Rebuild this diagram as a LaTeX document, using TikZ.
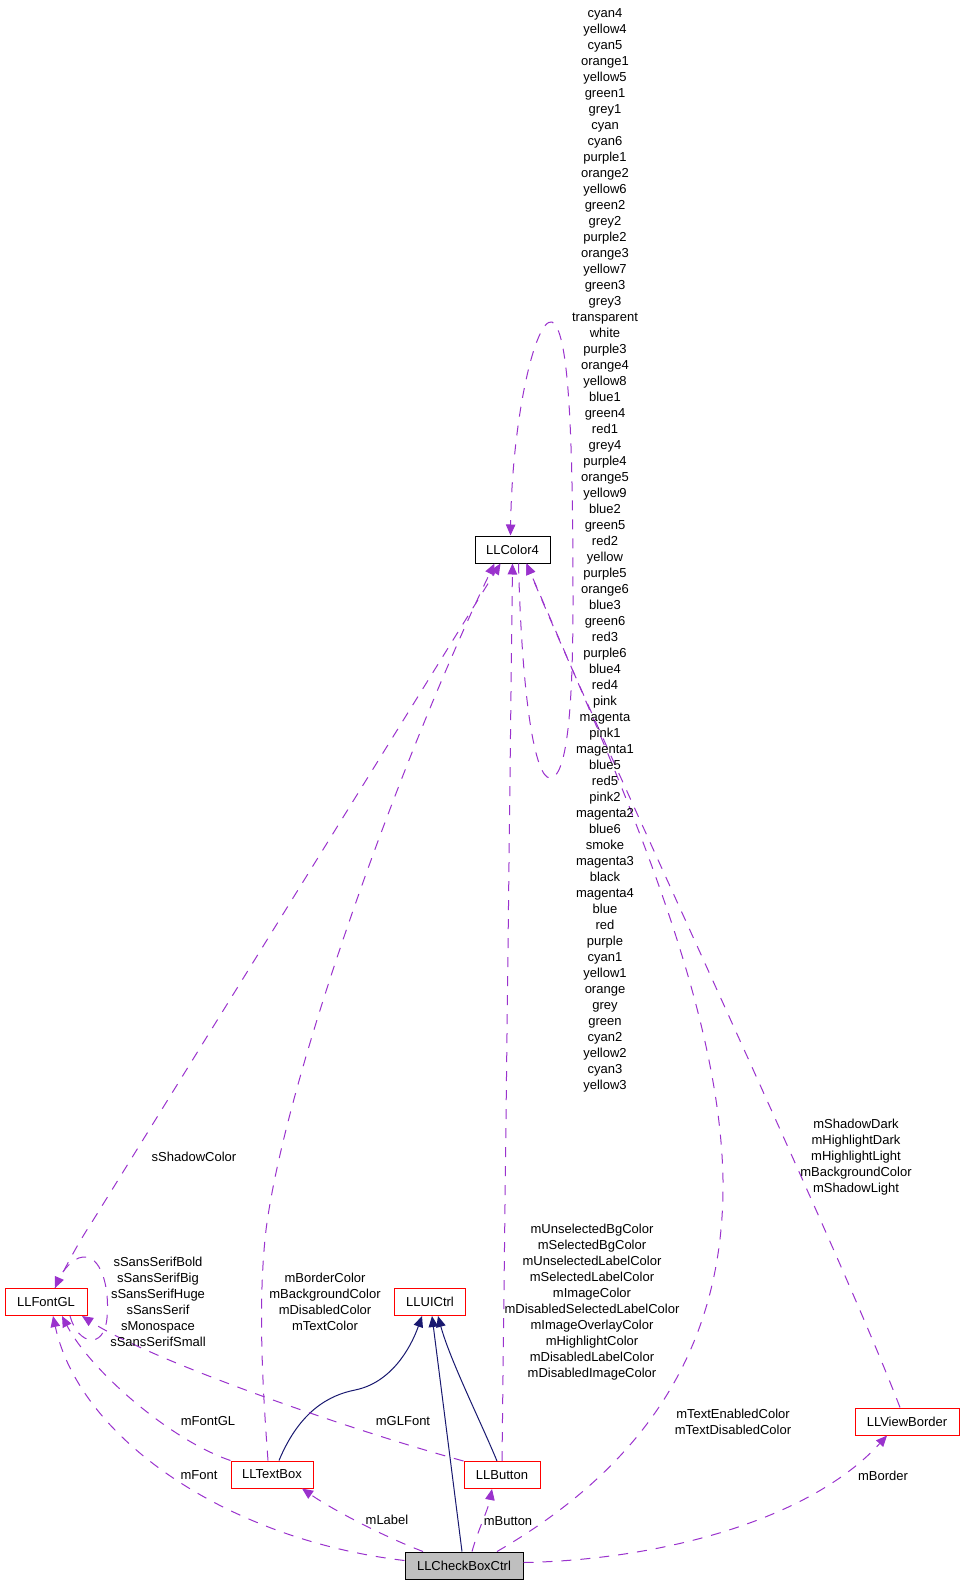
\documentclass[tikz,border=0pt]{standalone}
\usepackage{fontspec}
\setmainfont{Liberation Sans}
\usetikzlibrary{arrows.meta}
\definecolor{depc}{HTML}{9A32CD}
\definecolor{inhc}{HTML}{191970}
\definecolor{boxred}{HTML}{FF0000}
\definecolor{boxgray}{HTML}{BFBFBF}
\tikzset{
  every node/.style={font=\fontsize{13}{16}\selectfont, inner sep=0pt},
  cls/.style={draw=boxred, line width=1pt, minimum height=27pt, align=center},
  clsblack/.style={draw=black, line width=1pt, minimum height=27pt, align=center},
  clsmain/.style={draw=black, fill=boxgray, line width=1pt, minimum height=27pt, align=center},
  usedby/.style={draw=depc, line width=1pt, dash pattern=on 10pt off 9pt, -{Triangle[length=11pt,width=9.5pt,fill=depc]}},
  isa/.style={draw=inhc, line width=1pt, -{Triangle[length=11pt,width=9.5pt,fill=inhc]}},
  lbl/.style={align=center}
}
\begin{document}
\begin{tikzpicture}[x=1pt,y=-1pt]
\useasboundingbox (0,0) rectangle (964,1584);

% classes
\node[clsblack, minimum width=75pt] (color4) at (512.5,549.5) {LLColor4};
\node[cls, minimum width=82pt] (fontgl) at (46,1302) {LLFontGL};
\node[cls, minimum width=71pt] (uictrl) at (430,1302) {LLUICtrl};
\node[cls, minimum width=82pt] (textbox) at (272,1474.5) {LLTextBox};
\node[cls, minimum width=76pt] (button) at (502,1475) {LLButton};
\node[cls, minimum width=104pt] (viewborder) at (907,1421.5) {LLViewBorder};
\node[clsmain, minimum width=118pt] (checkbox) at (464,1565.5) {LLCheckBoxCtrl};

% inheritance
\draw[isa] ([xshift=7pt]textbox.north) .. controls (300,1410) and (330,1395) .. (355,1390) .. controls (390,1383) and (410,1350) .. ([xshift=-8pt]uictrl.south);
\draw[isa] ([xshift=-2pt]checkbox.north) -- ([xshift=2pt]uictrl.south);
\draw[isa] ([xshift=-5pt]button.north) .. controls (480,1420) and (450,1360) .. ([xshift=8pt]uictrl.south);

% usage
\draw[usedby] ([xshift=-41pt]checkbox.north) .. controls (380,1535) and (330,1508) .. ([xshift=30pt]textbox.south);
\draw[usedby] ([xshift=8pt]checkbox.north) .. controls (478,1530) and (488,1510) .. ([xshift=-10pt]button.south);
\draw[usedby] ([yshift=3pt]checkbox.east) .. controls (660,1560) and (810,1520) .. ([xshift=-20pt]viewborder.south);
\draw[usedby] ([yshift=5pt]checkbox.west) .. controls (230,1540) and (80,1440) .. ([xshift=7pt]fontgl.south);
\draw[usedby] (textbox.north west) .. controls (170,1440) and (90,1370) .. ([xshift=16pt]fontgl.south);
\draw[usedby] (button.north west) .. controls (350,1430) and (150,1360) .. ([xshift=36pt]fontgl.south);
\draw[usedby] ([xshift=24pt]fontgl.south) .. controls (78,1345) and (104,1350) .. (107,1318) .. controls (110,1285) and (100,1255) .. (83,1257) .. controls (72,1258) and (62,1272) .. ([xshift=9pt]fontgl.north);
\draw[usedby] ([xshift=9pt]fontgl.north) .. controls (68,1262) and (80,1240) .. (92,1222) -- ([xshift=-12pt]color4.south);
\draw[usedby] ([xshift=-4pt]textbox.north) .. controls (262,1380) and (258,1300) .. (266,1230) .. controls (285,1080) and (400,760) .. ([xshift=-18pt]color4.south);
\draw[usedby] (button.north) -- (color4.south);
\draw[usedby] ([xshift=33pt]checkbox.north) .. controls (620,1480) and (725,1370) .. (723,1180) .. controls (720,1000) and (620,780) .. ([xshift=14pt]color4.south);
\draw[usedby] ([xshift=-7pt]viewborder.north) .. controls (840,1250) and (600,740) .. ([xshift=14pt]color4.south);
\draw[usedby] ([xshift=6pt]color4.south) .. controls (522,700) and (535,778) .. (550,778) .. controls (568,778) and (573,700) .. (573,600) .. controls (573,420) and (568,330) .. (552,322) .. controls (535,318) and (512,420) .. ([xshift=-2pt]color4.north);

% labels
\node[lbl] (lcolors) at (605,550.5) {cyan4\\yellow4\\cyan5\\orange1\\yellow5\\green1\\grey1\\cyan\\cyan6\\purple1\\orange2\\yellow6\\green2\\grey2\\purple2\\orange3\\yellow7\\green3\\grey3\\transparent\\white\\purple3\\orange4\\yellow8\\blue1\\green4\\red1\\grey4\\purple4\\orange5\\yellow9\\blue2\\green5\\red2\\yellow\\purple5\\orange6\\blue3\\green6\\red3\\purple6\\blue4\\red4\\pink\\magenta\\pink1\\magenta1\\blue5\\red5\\pink2\\magenta2\\blue6\\smoke\\magenta3\\black\\magenta4\\blue\\red\\purple\\cyan1\\yellow1\\orange\\grey\\green\\cyan2\\yellow2\\cyan3\\yellow3};
\node[lbl] (lshadow) at (194,1157) {sShadowColor};
\node[lbl] (lfonts) at (158,1302) {sSansSerifBold\\sSansSerifBig\\sSansSerifHuge\\sSansSerif\\sMonospace\\sSansSerifSmall};
\node[lbl] (ltbcol) at (325,1302) {mBorderColor\\mBackgroundColor\\mDisabledColor\\mTextColor};
\node[lbl] (lbtcol) at (592,1302) {mUnselectedBgColor\\mSelectedBgColor\\mUnselectedLabelColor\\mSelectedLabelColor\\mImageColor\\mDisabledSelectedLabelColor\\mImageOverlayColor\\mHighlightColor\\mDisabledLabelColor\\mDisabledImageColor};
\node[lbl] (lvbcol) at (856,1157.5) {mShadowDark\\mHighlightDark\\mHighlightLight\\mBackgroundColor\\mShadowLight};
\node[lbl] (lcbcol) at (733,1421.5) {mTextEnabledColor\\mTextDisabledColor};
\node (lfontgl) at (208,1421) {mFontGL};
\node (lglfont) at (403,1421) {mGLFont};
\node (lfont) at (199,1475) {mFont};
\node (llabel) at (387,1520) {mLabel};
\node (lbutton) at (508,1521) {mButton};
\node (lborder) at (883,1476) {mBorder};
\end{tikzpicture}
\end{document}
